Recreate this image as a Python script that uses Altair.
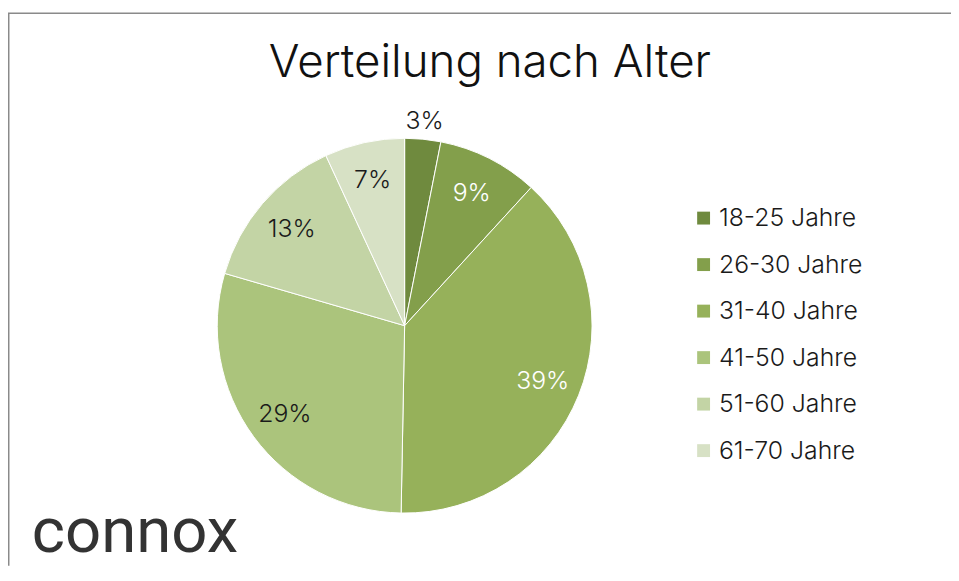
import altair as alt
import pandas as pd

# ---- data ----
groups = ["18-25 Jahre", "26-30 Jahre", "31-40 Jahre", "41-50 Jahre", "51-60 Jahre", "61-70 Jahre"]
shares = [3.1, 8.7, 38.5, 29.2, 13.6, 6.9]
labels = ["3%", "9%", "39%", "29%", "13%", "7%"]
colors = ["#6f8a3e", "#839f4b", "#96b15a", "#abc47c", "#c3d4a5", "#d7e1c5"]
title_text = "Verteilung nach Alter"
logo_text = "connox"

df = pd.DataFrame({"idx": list(range(len(groups))), "group": groups,
                   "share": shares, "label": labels})

FONT = "Inter"
CX, CY, R = 400, 318, 189
theta_scale = alt.Scale(domain=[0, 100], range=[0, 6.283185307179586])

base = alt.Chart(df).transform_window(
    end="sum(share)", sort=[alt.SortField("idx")], frame=[None, 0]
).transform_calculate(
    start="datum.end - datum.share", mid="datum.end - datum.share / 2"
)

pie = base.mark_arc(radius=R, stroke="white", strokeWidth=1).encode(
    theta=alt.Theta("start:Q", scale=theta_scale),
    theta2="end:Q",
    color=alt.Color(
        "group:N",
        scale=alt.Scale(domain=groups, range=colors),
        sort=groups,
        legend=alt.Legend(
            title=None, orient="none", legendX=689, legendY=197,
            symbolType="square", symbolSize=169, symbolStrokeWidth=0,
            labelFont=FONT, labelFontSize=25, labelFontWeight=300,
            labelColor="#1a1a1a", labelOffset=3, rowPadding=20.9,
            padding=0, labelLimit=300,
        ),
    ),
    x=alt.value(CX), y=alt.value(CY),
)

txt_color = alt.condition("datum.idx == 1 || datum.idx == 2",
                          alt.value("white"), alt.value("#1a1a1a"))

inner = base.transform_filter("datum.idx > 0").mark_text(
    radius=150, font=FONT, fontSize=25, fontWeight=300
).encode(
    theta=alt.Theta("mid:Q", scale=theta_scale),
    text="label:N", color=txt_color,
    x=alt.value(CX), y=alt.value(CY),
)

outer = base.transform_filter("datum.idx == 0").mark_text(
    radius=207, font=FONT, fontSize=25, fontWeight=300
).encode(
    theta=alt.Theta("mid:Q", scale=theta_scale),
    text="label:N", color=txt_color,
    x=alt.value(CX), y=alt.value(CY),
)

title = alt.Chart(pd.DataFrame({"t": [title_text]})).mark_text(
    font=FONT, fontSize=46, fontWeight=300, color="#111111",
    align="center", baseline="alphabetic"
).encode(text="t:N", x=alt.value(486), y=alt.value(67))

logo = alt.Chart(pd.DataFrame({"t": [logo_text]})).mark_text(
    font="Roboto", fontSize=64, fontWeight="normal", color="#333333",
    align="left", baseline="alphabetic"
).encode(text="t:N", x=alt.value(24), y=alt.value(546))

top_line = alt.Chart(pd.DataFrame({"t": [0]})).mark_rule(
    stroke="#8a8a8a", strokeWidth=1.5
).encode(x=alt.value(0), x2=alt.value(951), y=alt.value(3))

left_line = alt.Chart(pd.DataFrame({"t": [0]})).mark_rule(
    stroke="#8a8a8a", strokeWidth=1.5
).encode(x=alt.value(0.75), y=alt.value(3), y2=alt.value(560))

chart = alt.layer(top_line, left_line, pie, inner, outer, title, logo).properties(
    width=951, height=560,
    autosize=alt.AutoSizeParams(type="none"),
    padding=0,
).configure_view(stroke=None)

chart.save("out.html", embed_options={"renderer": "svg", "actions": False})
